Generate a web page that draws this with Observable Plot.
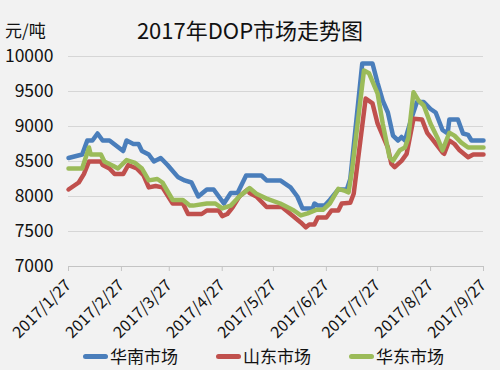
<!DOCTYPE html>
<html><head><meta charset="utf-8">
<script src="https://cdn.jsdelivr.net/npm/d3@7"></script>
<script src="https://cdn.jsdelivr.net/npm/@observablehq/plot@0.6"></script>
<style>
html,body{margin:0;padding:0;background:#f2f2f2;}
#wrap{position:relative;width:500px;height:370px;overflow:hidden;font-family:"Noto Sans CJK SC","Noto Sans",sans-serif;color:#111;}
#title{position:absolute;left:0;top:14px;width:500px;text-align:center;font-size:22px;line-height:30px;}
#unit{position:absolute;left:5px;top:21px;font-size:17px;line-height:17px;}
#chart{position:absolute;left:0;top:0;}
#legend{position:absolute;left:83px;top:345px;display:flex;gap:38px;font-size:17px;line-height:22px;}
.item{display:flex;align-items:center;gap:2px;}
.sw{display:inline-block;width:25px;height:5px;border-radius:3px;}
</style></head>
<body><div id="wrap">
<div id="chart"></div>
<div id="title">2017年DOP市场走势图</div>
<div id="unit">元/吨</div>
<div id="legend"></div>
</div>
<script>
const seriesNames = ["华南市场", "山东市场", "华东市场"];
const seriesColors = ["#4a7ebb", "#c0504d", "#9bbb59"];
const tickLabels = ["2017/1/27","2017/2/27","2017/3/27","2017/4/27","2017/5/27","2017/6/27","2017/7/27","2017/8/27","2017/9/27"];
const yTicks = [7000, 7500, 8000, 8500, 9000, 9500, 10000];

const southDates = ["2017-01-27","2017-02-04","2017-02-07","2017-02-10","2017-02-13","2017-02-16","2017-02-20","2017-02-28","2017-03-02","2017-03-06","2017-03-09","2017-03-11","2017-03-15","2017-03-18","2017-03-22","2017-03-26","2017-04-01","2017-04-05","2017-04-09","2017-04-13","2017-04-18","2017-04-22","2017-04-28","2017-05-02","2017-05-06","2017-05-11","2017-05-20","2017-05-23","2017-05-31","2017-06-06","2017-06-10","2017-06-13","2017-06-19","2017-06-20","2017-06-22","2017-06-26","2017-06-29","2017-07-04","2017-07-09","2017-07-11","2017-07-18","2017-07-24","2017-07-27","2017-07-30","2017-08-02","2017-08-05","2017-08-08","2017-08-10","2017-08-12","2017-08-16","2017-08-19","2017-08-23","2017-08-27","2017-08-30","2017-09-03","2017-09-06","2017-09-07","2017-09-12","2017-09-15","2017-09-18","2017-09-20","2017-09-27"];
const southValues = [8550,8600,8800,8800,8900,8800,8800,8650,8800,8750,8750,8650,8600,8500,8550,8450,8280,8230,8200,8000,8100,8100,7900,8050,8050,8300,8300,8230,8230,8130,8000,7830,7830,7900,7870,7870,7950,8100,8100,8250,9900,9900,9620,9370,9200,8870,8800,8850,8800,9130,9350,9350,9250,9200,8950,8900,9100,9100,8900,8880,8800,8800];

const shandongDates = ["2017-01-27","2017-02-02","2017-02-05","2017-02-08","2017-02-15","2017-02-16","2017-02-20","2017-02-23","2017-02-28","2017-03-03","2017-03-08","2017-03-12","2017-03-15","2017-03-19","2017-03-23","2017-03-29","2017-04-04","2017-04-07","2017-04-15","2017-04-18","2017-04-25","2017-04-27","2017-04-30","2017-05-03","2017-05-07","2017-05-12","2017-05-13","2017-05-17","2017-05-23","2017-06-01","2017-06-06","2017-06-12","2017-06-15","2017-06-17","2017-06-20","2017-06-22","2017-06-27","2017-06-30","2017-07-04","2017-07-06","2017-07-11","2017-07-13","2017-07-20","2017-07-24","2017-07-27","2017-08-02","2017-08-04","2017-08-06","2017-08-10","2017-08-13","2017-08-17","2017-08-22","2017-08-25","2017-08-28","2017-09-03","2017-09-04","2017-09-07","2017-09-10","2017-09-13","2017-09-18","2017-09-21","2017-09-27"];
const shandongValues = [8100,8200,8320,8500,8500,8450,8400,8320,8320,8450,8400,8300,8130,8150,8130,7900,7900,7750,7750,7800,7800,7720,7750,7840,8000,8100,8050,8000,7850,7850,7750,7630,7560,7600,7600,7700,7700,7800,7800,7900,7910,8040,9400,9330,9040,8700,8470,8420,8510,8610,9110,9100,8910,8820,8630,8610,8800,8750,8660,8560,8600,8600];

const eastDates = ["2017-01-27","2017-02-04","2017-02-08","2017-02-09","2017-02-15","2017-02-17","2017-02-22","2017-02-25","2017-03-02","2017-03-07","2017-03-11","2017-03-15","2017-03-20","2017-03-23","2017-03-29","2017-04-04","2017-04-08","2017-04-10","2017-04-18","2017-04-23","2017-04-27","2017-05-02","2017-05-07","2017-05-12","2017-05-13","2017-05-17","2017-05-23","2017-05-31","2017-06-08","2017-06-12","2017-06-16","2017-06-21","2017-06-25","2017-06-29","2017-07-04","2017-07-08","2017-07-10","2017-07-12","2017-07-19","2017-07-22","2017-07-27","2017-07-30","2017-08-03","2017-08-05","2017-08-09","2017-08-12","2017-08-14","2017-08-17","2017-08-20","2017-08-23","2017-08-27","2017-08-31","2017-09-03","2017-09-07","2017-09-10","2017-09-14","2017-09-18","2017-09-27"];
const eastValues = [8400,8400,8700,8600,8600,8500,8440,8400,8520,8480,8400,8230,8250,8200,7950,7950,7870,7870,7900,7900,7830,7870,8000,8100,8120,8040,7970,7900,7800,7730,7760,7810,7810,7900,8110,8080,8060,8370,9800,9760,9470,9040,8560,8510,8660,8700,8840,9490,9370,9300,9040,8840,8660,8910,8870,8770,8700,8700];

const parseIso = d3.utcParse("%Y-%m-%d");
const parseTick = d3.utcParse("%Y/%m/%d");
const tickDates = tickLabels.map(parseTick);
const labelOf = new Map(tickDates.map((d, i) => [+d, tickLabels[i]]));

const allDates = [southDates, shandongDates, eastDates];
const allValues = [southValues, shandongValues, eastValues];
const rows = [];
seriesNames.forEach((name, s) => {
  allDates[s].forEach((d, i) => rows.push({series: name, date: parseIso(d), value: allValues[s][i]}));
});

const chart = Plot.plot({
  width: 500,
  height: 345,
  marginTop: 56,
  marginBottom: 79,
  marginLeft: 68,
  marginRight: 17,
  style: {background: "transparent", fontFamily: '"Noto Sans CJK SC","Noto Sans",sans-serif', color: "#111", overflow: "visible"},
  x: {type: "utc", domain: [tickDates[0], tickDates[tickDates.length - 1]]},
  y: {domain: [7000, 10000]},
  color: {domain: seriesNames, range: seriesColors},
  marks: [
    Plot.ruleY(yTicks.slice(1), {stroke: "#d6d6d6", strokeWidth: 1}),
    Plot.ruleY([7000], {stroke: "#c4c4c4", strokeWidth: 1}),
    Plot.axisY({ticks: yTicks, tickSize: 0, tickPadding: 15, label: null, fontSize: 17.5, tickFormat: d => String(d)}),
    Plot.axisX({ticks: tickDates, tickFormat: d => labelOf.get(+d), tickRotate: -45, tickSize: 5, tickPadding: 11, stroke: "#c4c4c4", label: null, fontSize: 16}),
    Plot.lineY(rows, {x: "date", y: "value", z: "series", stroke: "series", strokeWidth: 4.5, strokeLinejoin: "round", strokeLinecap: "round"})
  ]
});
document.getElementById("chart").appendChild(chart);

const legend = d3.select("#legend");
seriesNames.forEach((name, i) => {
  const item = legend.append("div").attr("class", "item");
  item.append("span").attr("class", "sw").style("background", seriesColors[i]);
  item.append("span").text(name);
});
</script>
</body></html>
